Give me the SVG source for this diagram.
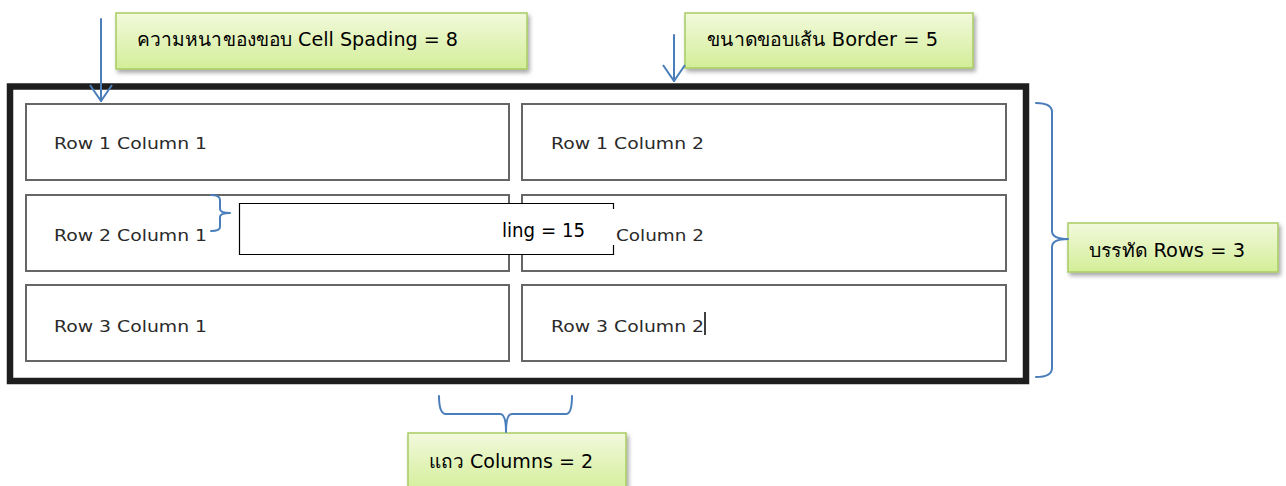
<svg xmlns="http://www.w3.org/2000/svg" width="1286" height="486" viewBox="0 0 1286 486">
  <style>
    .cell { fill: #ffffff; stroke: #666666; stroke-width: 2; }
    .celltext { font-family: "DejaVu Sans", Verdana, sans-serif; font-size: 15px; fill: #2a2a2a; }
    .callout { fill: url(#greenFill); stroke: #a9cc63; stroke-width: 1.5; filter: url(#shadow); }
    .calltext { font-family: Tahoma, "DejaVu Sans", "Noto Sans", sans-serif; font-size: 19px; fill: #000000; }
    .blue { fill: none; stroke: #4a7ebb; stroke-width: 2; stroke-linecap: round; stroke-linejoin: round; }
  </style>
  <defs>
    <linearGradient id="greenFill" x1="0" y1="0" x2="0" y2="1">
      <stop offset="0" stop-color="#f2f9dc"/>
      <stop offset="1" stop-color="#d3ee98"/>
    </linearGradient>
    <filter id="shadow" x="-10%" y="-20%" width="120%" height="150%">
      <feDropShadow dx="2" dy="3" stdDeviation="2" flood-color="#000000" flood-opacity="0.35"/>
    </filter>
    <!-- open V arrowhead, drawn along +x so orient="auto" follows the line -->
    <marker id="vhead" viewBox="0 0 18 24" refX="17" refY="12" markerWidth="18" markerHeight="24" markerUnits="userSpaceOnUse" orient="auto">
      <path d="M1,1 L17,12 L1,23" fill="none" stroke="#4a7ebb" stroke-width="2"/>
    </marker>
  </defs>

  <rect width="1286" height="486" fill="#ffffff"/>

  <!-- table frame -->
  <g id="table">
    <rect x="10" y="86.5" width="1016" height="294.5" fill="#ffffff" stroke="#1e1e1e" stroke-width="6.5"/>
  </g>

  <!-- table cells -->
  <g id="r1c1">
    <rect class="cell" x="26" y="104" width="483" height="76"/>
    <text class="celltext" x="54" y="149" textLength="153" lengthAdjust="spacingAndGlyphs">Row 1 Column 1</text>
  </g>
  <g id="r1c2">
    <rect class="cell" x="522" y="104" width="484" height="76"/>
    <text class="celltext" x="551" y="149" textLength="153" lengthAdjust="spacingAndGlyphs">Row 1 Column 2</text>
  </g>
  <g id="r2c1">
    <rect class="cell" x="26" y="195" width="483" height="76"/>
    <text class="celltext" x="54" y="241" textLength="153" lengthAdjust="spacingAndGlyphs">Row 2 Column 1</text>
  </g>
  <g id="r2c2">
    <rect class="cell" x="522" y="195" width="484" height="76"/>
    <text class="celltext" x="616" y="241" textLength="88" lengthAdjust="spacingAndGlyphs">Column 2</text>
  </g>
  <g id="r3c1">
    <rect class="cell" x="26" y="285" width="483" height="76"/>
    <text class="celltext" x="54" y="332" textLength="153" lengthAdjust="spacingAndGlyphs">Row 3 Column 1</text>
  </g>
  <g id="r3c2">
    <rect class="cell" x="522" y="285" width="484" height="76"/>
    <text class="celltext" x="551" y="332" textLength="153" lengthAdjust="spacingAndGlyphs">Row 3 Column 2</text>
    <line x1="705" y1="312" x2="705" y2="335" stroke="#000000" stroke-width="1.5"/>
  </g>

  <!-- cell padding label box -->
  <g id="padding-label">
    <rect x="239.5" y="203.5" width="374" height="51" fill="#ffffff"/>
    <path d="M613.5,209 L613.5,203.5 L239.5,203.5 L239.5,254.5 L613.5,254.5 L613.5,245" fill="none" stroke="#000000" stroke-width="1.2"/>
    <text class="calltext" x="502" y="237" textLength="83" lengthAdjust="spacingAndGlyphs">ling = 15</text>
  </g>

  <!-- callouts -->
  <g id="spacing-callout">
    <rect class="callout" x="116" y="13" width="411" height="56"/>
    <text class="calltext" x="137" y="46" textLength="321" lengthAdjust="spacingAndGlyphs">ความหนาของขอบ Cell Spading = 8</text>
  </g>
  <g id="border-callout">
    <rect class="callout" x="685" y="13" width="288" height="55"/>
    <text class="calltext" x="707" y="46" textLength="231" lengthAdjust="spacingAndGlyphs">ขนาดขอบเส้น Border = 5</text>
  </g>
  <g id="rows-callout">
    <rect class="callout" x="1068" y="223" width="210" height="49"/>
    <text class="calltext" x="1089" y="257" textLength="156" lengthAdjust="spacingAndGlyphs">บรรทัด Rows = 3</text>
  </g>
  <g id="columns-callout">
    <rect class="callout" x="408" y="433" width="218" height="60"/>
    <text class="calltext" x="429" y="468" textLength="164" lengthAdjust="spacingAndGlyphs">แถว Columns = 2</text>
  </g>

  <!-- connectors -->
  <g id="connectors">
    <line class="blue" x1="101" y1="19" x2="101" y2="101" marker-end="url(#vhead)"/>
    <line class="blue" x1="674" y1="35" x2="674" y2="81" marker-end="url(#vhead)"/>
    <!-- rows brace -->
    <path class="blue" d="M1036,103 Q1052,103 1052,112 L1052,231 Q1052,239 1068,239 Q1052,239 1052,247 L1052,368 Q1052,377 1036,377"/>
    <!-- columns brace -->
    <path class="blue" d="M439,396 Q439,414 446,414 L500,414 Q506,414 506,432 Q506,414 512,414 L566,414 Q572,414 572,396"/>
    <!-- cell padding brace -->
    <path class="blue" d="M211,195 Q220,195 220,200 L220,209 Q220,213 230,213 Q220,213 220,217 L220,227 Q220,231 211,231"/>
  </g>
</svg>
